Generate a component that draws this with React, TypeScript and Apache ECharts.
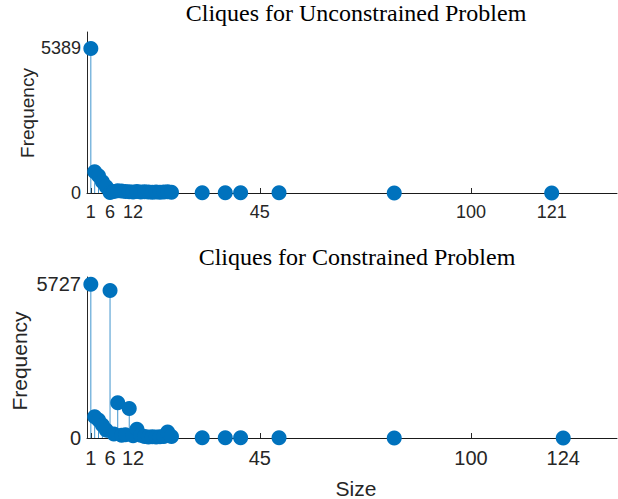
import React, { useEffect, useRef } from "react";
import * as echarts from "echarts";

const topSizes = [1, 2, 3, 4, 5, 6, 7, 8, 9, 10, 11, 12, 13, 14, 15, 16, 17, 18, 19, 20, 21, 22, 30, 36, 40, 50, 80, 121];
const topFreq = [5389, 790, 640, 420, 230, 20, 60, 80, 70, 60, 50, 40, 60, 40, 50, 40, 30, 40, 30, 40, 50, 30, 5, 5, 5, 5, 2, 1];
const botSizes = [1, 2, 3, 4, 5, 6, 7, 8, 9, 10, 11, 12, 13, 14, 15, 16, 17, 18, 19, 20, 21, 22, 30, 36, 40, 50, 80, 124];
const botFreq = [5727, 790, 670, 480, 300, 5500, 150, 1310, 100, 120, 1100, 80, 330, 100, 60, 40, 50, 40, 50, 60, 220, 60, 5, 5, 5, 5, 2, 1];
const topXTicks = [1, 6, 12, 45, 100, 121];
const botXTicks = [1, 6, 12, 45, 100, 124];
const topYTicks = [0, 5389];
const botYTicks = [0, 5727];

const BLUE = "#0072BD";
const TXT = "#262626";

export default function App() {
  const ref = useRef<HTMLDivElement>(null);
  useEffect(() => {
    const chart = echarts.init(ref.current!, null, { renderer: "svg" });
    const mk = (arr: number[], f: number[]) => arr.map((s, i) => [s, f[i]]);
    const topData = mk(topSizes, topFreq);
    const botData = mk(botSizes, botFreq);
    const xAxis = (idx: number, ticks: number[], fs: number) => ({
      type: "value",
      gridIndex: idx,
      min: 0,
      max: 138,
      axisLine: { onZero: true, lineStyle: { color: "#1a1a1a", width: 1 } },
      axisTick: { inside: true, length: 5, customValues: ticks, lineStyle: { color: "#262626" } },
      axisLabel: { customValues: ticks, color: TXT, fontSize: fs, fontFamily: "Liberation Sans", margin: 10, formatter: (v: number) => String(v) },
      splitLine: { show: false },
    });
    const yAxis = (idx: number, ticks: number[], fs: number) => ({
      type: "value",
      gridIndex: idx,
      min: 0,
      max: 6000,
      axisLine: { show: true, lineStyle: { color: "#262626", width: 1 } },
      axisTick: { show: true, inside: true, length: 5, customValues: ticks, lineStyle: { color: "#262626" } },
      axisLabel: { customValues: ticks, color: TXT, fontSize: fs, fontFamily: "Liberation Sans", margin: 6, formatter: (v: number) => String(v) },
      splitLine: { show: false },
    });
    const stems = (idx: number, data: number[][]) => ({
      type: "custom",
      xAxisIndex: idx,
      yAxisIndex: idx,
      data,
      clip: false,
      renderItem: (params: any, api: any) => {
        const p0 = api.coord([api.value(0), 0]);
        const p1 = api.coord([api.value(0), api.value(1)]);
        return {
          type: "line",
          shape: { x1: p0[0], y1: p0[1], x2: p1[0], y2: p1[1] },
          style: { stroke: BLUE, lineWidth: 1, opacity: 0.75 },
        };
      },
    });
    const dots = (idx: number, data: number[][]) => ({
      type: "scatter",
      xAxisIndex: idx,
      yAxisIndex: idx,
      data,
      clip: false,
      symbol: "circle",
      symbolSize: 15,
      itemStyle: { color: BLUE, opacity: 1 },
      emphasis: { disabled: true },
    });
    chart.setOption({
      animation: false,
      backgroundColor: "#ffffff",
      grid: [
        { left: 87, top: 32, width: 530, height: 161 },
        { left: 87, top: 277, width: 530, height: 161 },
      ],
      xAxis: [xAxis(0, topXTicks, 18), xAxis(1, botXTicks, 20)],
      yAxis: [yAxis(0, topYTicks, 18), yAxis(1, botYTicks, 20)],
      series: [stems(0, topData), dots(0, topData), stems(1, botData), dots(1, botData)],
      graphic: [
        { type: "text", x: 356, y: 13, style: { text: "Cliques for Unconstrained Problem", fill: "#000", font: "24px 'Liberation Serif'", align: "center", verticalAlign: "middle" } },
        { type: "text", x: 357, y: 257, style: { text: "Cliques for Constrained Problem", fill: "#000", font: "24px 'Liberation Serif'", align: "center", verticalAlign: "middle" } },
        { type: "text", x: 27, y: 113, rotation: Math.PI / 2, style: { text: "Frequency", fill: TXT, font: "19px 'Liberation Sans'", align: "center", verticalAlign: "middle" } },
        { type: "text", x: 19, y: 361, rotation: Math.PI / 2, style: { text: "Frequency", fill: TXT, font: "21px 'Liberation Sans'", align: "center", verticalAlign: "middle" } },
        { type: "text", x: 356, y: 488, style: { text: "Size", fill: TXT, font: "21px 'Liberation Sans'", align: "center", verticalAlign: "middle" } },
      ],
    });
    return () => chart.dispose();
  }, []);
  return <div ref={ref} style={{ width: 618, height: 499, position: "absolute", left: 0, top: 0 }} />;
}
